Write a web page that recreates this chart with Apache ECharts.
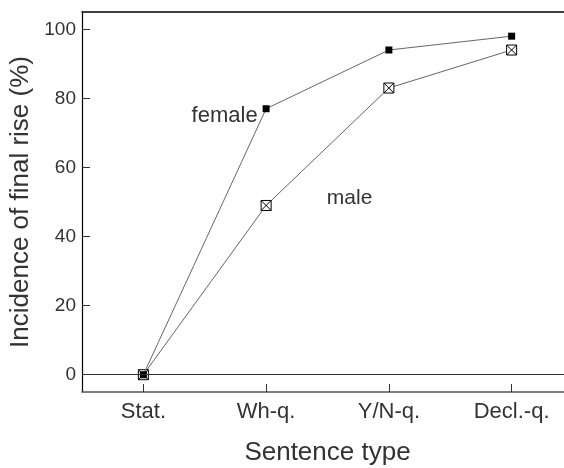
<!DOCTYPE html>
<html>
<head>
<meta charset="utf-8">
<script src="https://cdn.jsdelivr.net/npm/echarts@6/dist/echarts.min.js"></script>
<style>
html,body{margin:0;padding:0;background:#fff;}
#chart{width:564px;height:468px;}
</style>
</head>
<body>
<div id="chart"></div>
<script>
var categories = ['Stat.', 'Wh-q.', 'Y/N-q.', 'Decl.-q.'];
var femaleValues = [0, 77, 94, 98];
var maleValues = [0, 49, 83, 94];
var yTickValues = [0, 20, 40, 60, 80, 100];
var femaleLabel = 'female';
var maleLabel = 'male';
var maleLabelPos = [1.68, 51];

var FONT = '"Liberation Sans", Arial, sans-serif';
var TXT = '#333';

function pts(vals) { return vals.map(function (v, i) { return [i, v]; }); }
var catIdx = categories.map(function (c, i) { return i; });

var boxX = 'path://M0,0 L10,0 L10,10 L0,10 Z M0,0 L10,10 M10,0 L0,10';

var femaleData = pts(femaleValues).map(function (p, i) {
  if (i === 1) {
    return { value: p, label: { show: true, formatter: femaleLabel, position: 'left', distance: 5, offset: [0, 7.5],
      color: TXT, fontFamily: FONT, fontSize: 22 } };
  }
  return p;
});

var chart = echarts.init(document.getElementById('chart'), null, { renderer: 'canvas' });
chart.setOption({
  animation: false,
  backgroundColor: '#fff',
  grid: { left: 82, top: 12, right: -9, bottom: 76, containLabel: false, outerBoundsMode: 'none' },
  xAxis: [{
    type: 'value',
    min: -0.5,
    max: 3.5,
    position: 'bottom',
    name: 'Sentence type',
    nameLocation: 'middle',
    nameGap: 48,
    nameTextStyle: { color: TXT, fontFamily: FONT, fontSize: 26 },
    axisLine: { show: true, onZero: false, lineStyle: { color: '#555', width: 1.5 } },
    axisTick: { show: true, inside: true, length: 8, customValues: catIdx, lineStyle: { color: '#333' } },
    axisLabel: { show: true, margin: 9, customValues: catIdx, color: TXT, fontFamily: FONT, fontSize: 22,
      formatter: function (v) { return categories[Math.round(v)]; } },
    splitLine: { show: false }
  }, {
    type: 'value',
    min: -0.5,
    max: 3.5,
    position: 'top',
    axisLine: { show: true, onZero: false, lineStyle: { color: '#000', width: 1.5 } },
    axisTick: { show: false },
    axisLabel: { show: false },
    splitLine: { show: false }
  }],
  yAxis: {
    type: 'value',
    min: -5,
    max: 105,
    position: 'left',
    name: 'Incidence of final rise (%)',
    nameLocation: 'middle',
    nameGap: 48,
    nameTextStyle: { color: TXT, fontFamily: FONT, fontSize: 26 },
    axisLine: { show: true, onZero: false, lineStyle: { color: '#000', width: 1.2 } },
    axisTick: { show: true, inside: true, length: 8, customValues: yTickValues, lineStyle: { color: '#333' } },
    axisLabel: { show: true, margin: 6, customValues: yTickValues, color: TXT, fontFamily: FONT, fontSize: 19 },
    splitLine: { show: false }
  },
  series: [{
    name: 'male',
    type: 'line',
    data: pts(maleValues),
    symbol: boxX,
    symbolSize: 10,
    lineStyle: { color: '#666', width: 1 },
    itemStyle: { color: '#fff', borderColor: '#000', borderWidth: 1 },
    z: 3,
    markLine: {
      silent: true,
      symbol: ['none', 'none'],
      label: { show: false },
      lineStyle: { color: '#333', width: 1.2, type: 'solid' },
      data: [{ yAxis: 0 }]
    },
    markPoint: {
      symbol: 'circle',
      symbolSize: 1,
      itemStyle: { color: 'rgba(0,0,0,0)' },
      label: { show: true, position: 'inside', formatter: maleLabel, color: TXT, fontFamily: FONT, fontSize: 21 },
      data: [{ coord: maleLabelPos }]
    }
  }, {
    name: 'female',
    type: 'line',
    data: femaleData,
    symbol: 'rect',
    symbolSize: 7,
    lineStyle: { color: '#666', width: 1 },
    itemStyle: { color: '#000' },
    z: 4
  }]
});
</script>
</body>
</html>
